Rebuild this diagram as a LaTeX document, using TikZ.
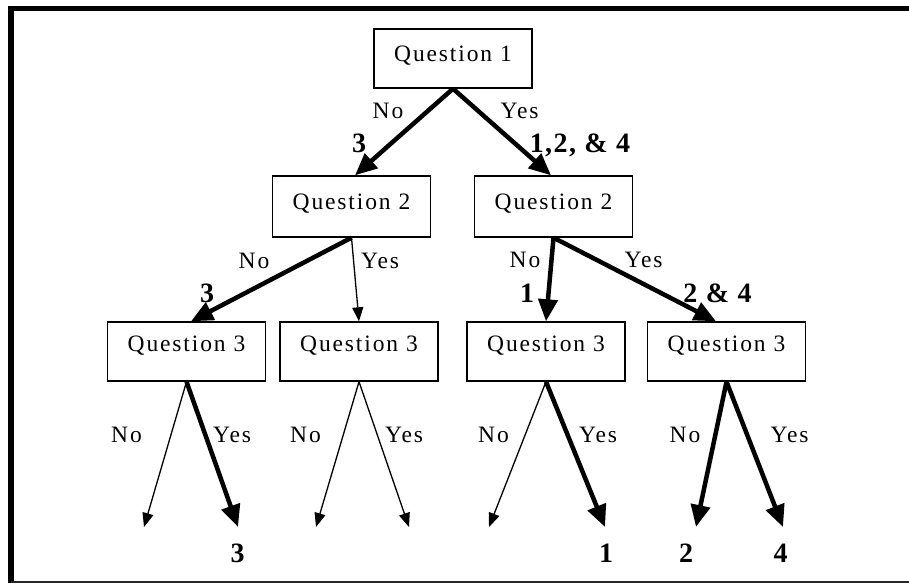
\documentclass[tikz,border=0pt]{standalone}
\usepackage{fontspec}
\setmainfont{Liberation Serif}
\newfontfamily\spacedfont[LetterSpace=8]{Liberation Serif}
\newfontfamily\numfont[LetterSpace=5]{Liberation Serif Bold}
\usetikzlibrary{arrows.meta}

\begin{document}
\begin{tikzpicture}[x=1pt,y=-1pt,
  qbox/.style={draw, line width=1.4pt, inner sep=0pt, text width=158pt,
    align=center, font=\spacedfont\fontsize{23.5}{27}\selectfont},
  qone/.style={qbox, text height=33pt, text depth=26pt},
  qtwo/.style={qbox, text height=33pt, text depth=28pt},
  qthree/.style={qbox, text height=29pt, text depth=30pt},
  lab/.style={inner sep=0pt, anchor=base, font=\spacedfont\fontsize{23.5}{27}\selectfont},
  num/.style={inner sep=0pt, anchor=base, font=\numfont\fontsize{28}{32}\selectfont},
  heavy/.style={line width=4.5pt, -{Triangle[length=22pt,width=19pt]}},
  light/.style={line width=1.3pt, -{Triangle[length=14pt,width=11pt]}}
]
\useasboundingbox (0,0) rectangle (909,583);

% frame: heavy top and left rules, thin bottom rule
\draw[line width=5.5pt] (11,583) -- (11,8.5) -- (909,8.5);
\draw[line width=1.5pt, black!85] (11,582) -- (909,582);

% question boxes
\node[qone]   (q1)  at (453,58.5)  {Question 1};
\node[qtwo]   (q2a) at (351.5,206.5) {Question 2};
\node[qtwo]   (q2b) at (553.5,206.5) {Question 2};
\node[qthree] (q3a) at (186.5,351.5) {Question 3};
\node[qthree] (q3b) at (359,351.5)   {Question 3};
\node[qthree] (q3c) at (546,351.5)   {Question 3};
\node[qthree] (q3d) at (726.5,351.5) {Question 3};

% free ends of the last branches
\coordinate (e1) at (144,527);
\coordinate (e2) at (238,527);
\coordinate (e3) at (316,527);
\coordinate (e4) at (409,527);
\coordinate (e5) at (489,527);
\coordinate (e6) at (605,527);
\coordinate (e7) at (696,527);
\coordinate (e8) at (783,527);

% branches
\draw[heavy] (q1.south) -- ([xshift=3.5pt]q2a.north);
\draw[heavy] (q1.south) -- ([xshift=-2.5pt]q2b.north);
\draw[heavy] (q2a.south) -- ([xshift=4.5pt]q3a.north);
\draw[light] (q2a.south) -- (q3b.north);
\draw[heavy] (q2b.south) -- (q3c.north);
\draw[heavy] (q2b.south) -- ([xshift=-10.5pt]q3d.north);
\draw[light] (q3a.south) -- (e1);
\draw[heavy] (q3a.south) -- (e2);
\draw[light] (q3b.south) -- (e3);
\draw[light] (q3b.south) -- (e4);
\draw[light] (q3c.south) -- (e5);
\draw[heavy] (q3c.south) -- (e6);
\draw[heavy] (q3d.south) -- (e7);
\draw[heavy] (q3d.south) -- (e8);

% branch labels
\node[lab] (n1)  at (388,118) {No};
\node[lab] (y1)  at (519.5,118) {Yes};
\node[num] (c1)  at (359,152) {3};
\node[num] (c2)  at (580,152) {1,2, \& 4};

\node[lab] (n2a) at (254,268) {No};
\node[lab] (y2a) at (380,268) {Yes};
\node[num] (c3)  at (207,302) {3};
\node[lab] (n2b) at (525,267) {No};
\node[lab] (y2b) at (643.5,267) {Yes};
\node[num] (c4)  at (527,302) {1};
\node[num] (c5)  at (717.5,302) {2 \& 4};

\node[lab] (n3a) at (126.5,442) {No};
\node[lab] (y3a) at (232,442) {Yes};
\node[lab] (n3b) at (305.5,442) {No};
\node[lab] (y3b) at (404,442) {Yes};
\node[lab] (n3c) at (493.5,442) {No};
\node[lab] (y3c) at (598,442) {Yes};
\node[lab] (n3d) at (685,442) {No};
\node[lab] (y3d) at (789.5,442) {Yes};

% outcomes
\node[num] (o3) at (237.5,562) {3};
\node[num] (o1) at (606,562) {1};
\node[num] (o2) at (686,562) {2};
\node[num] (o4) at (780.5,562) {4};
\end{tikzpicture}
\end{document}
